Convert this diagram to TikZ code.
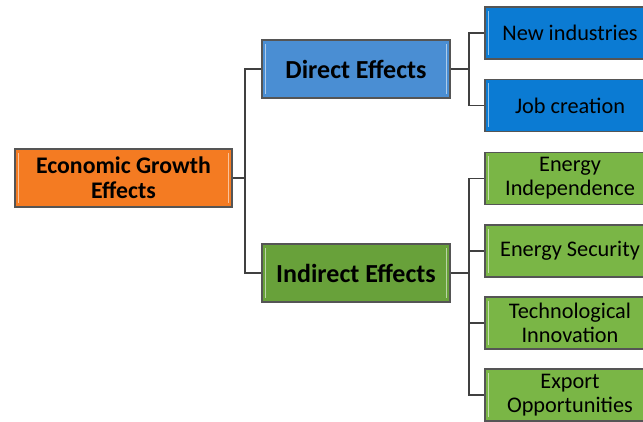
\documentclass[tikz,border=0pt]{standalone}
\usepackage{fontspec}
\setmainfont{Carlito}
\definecolor{rootorange}{HTML}{F47B22}
\definecolor{midblue}{HTML}{4A8ED3}
\definecolor{leafblue}{HTML}{0B7BD3}
\definecolor{midgreen}{HTML}{68A13A}
\definecolor{leafgreen}{HTML}{7AB646}
\definecolor{edgegray}{HTML}{555555}
\begin{document}
\begin{tikzpicture}[x=1pt,y=-1pt,
  box/.style={draw=edgegray,line width=1.1pt,inner sep=0pt,align=center,
    path picture={
      \draw[white,opacity=0.55,line width=1.6pt]
        ([xshift=3.5pt,yshift=-4pt]path picture bounding box.north west) --
        ([xshift=3.5pt,yshift=4pt]path picture bounding box.south west);
      \draw[white,opacity=0.55,line width=1.6pt]
        ([xshift=-3.5pt,yshift=-4pt]path picture bounding box.north east) --
        ([xshift=-3.5pt,yshift=4pt]path picture bounding box.south east);}},
  rootbox/.style={box,fill=rootorange,minimum width=217pt,minimum height=58pt,
    font=\fontsize{23.8}{25}\selectfont\bfseries},
  midbox/.style={box,minimum width=188pt,minimum height=58pt,
    font=\fontsize{26}{28}\selectfont\bfseries},
  leafbox/.style={box,minimum width=170pt,minimum height=52pt,
    font=\fontsize{22.3}{24}\selectfont},
  link/.style={draw=black!75,line width=1.3pt}]
\useasboundingbox (0,0) rectangle (643,422);
\node[rootbox] (root) at (123.5,178) {Economic Growth\\Effects};
\node[midbox,fill=midblue] (direct) at (356,69) {Direct Effects};
\node[midbox,fill=midgreen] (indirect) at (356,273) {Indirect Effects};
\node[leafbox,fill=leafblue] (newind) at (570,33) {New industries};
\node[leafbox,fill=leafblue] (jobs) at (570,105.5) {Job creation};
\node[leafbox,fill=leafgreen] (indep) at (570,178.5) {Energy\\Independence};
\node[leafbox,fill=leafgreen] (secur) at (570,251) {Energy Security};
\node[leafbox,fill=leafgreen] (techno) at (570,323) {Technological\\Innovation};
\node[leafbox,fill=leafgreen] (export) at (570,395) {Export\\Opportunities};
% elbow joints
\coordinate (j0) at (245,0);
\coordinate (j1) at (469,0);
\draw[link] (root.east) -- (j0 |- root.east) |- (direct.west);
\draw[link] (j0 |- root.east) |- (indirect.west);
\draw[link] (direct.east) -- (j1 |- direct.east);
\draw[link] (newind.west) -| (j1 |- direct.east) |- (jobs.west);
\draw[link] (indirect.east) -- (j1 |- indirect.east);
\draw[link] (indep.west) -| (j1 |- indirect.east) |- (export.west);
\draw[link] (secur.west) -- (j1 |- secur.west);
\draw[link] (techno.west) -- (j1 |- techno.west);
\end{tikzpicture}
\end{document}
